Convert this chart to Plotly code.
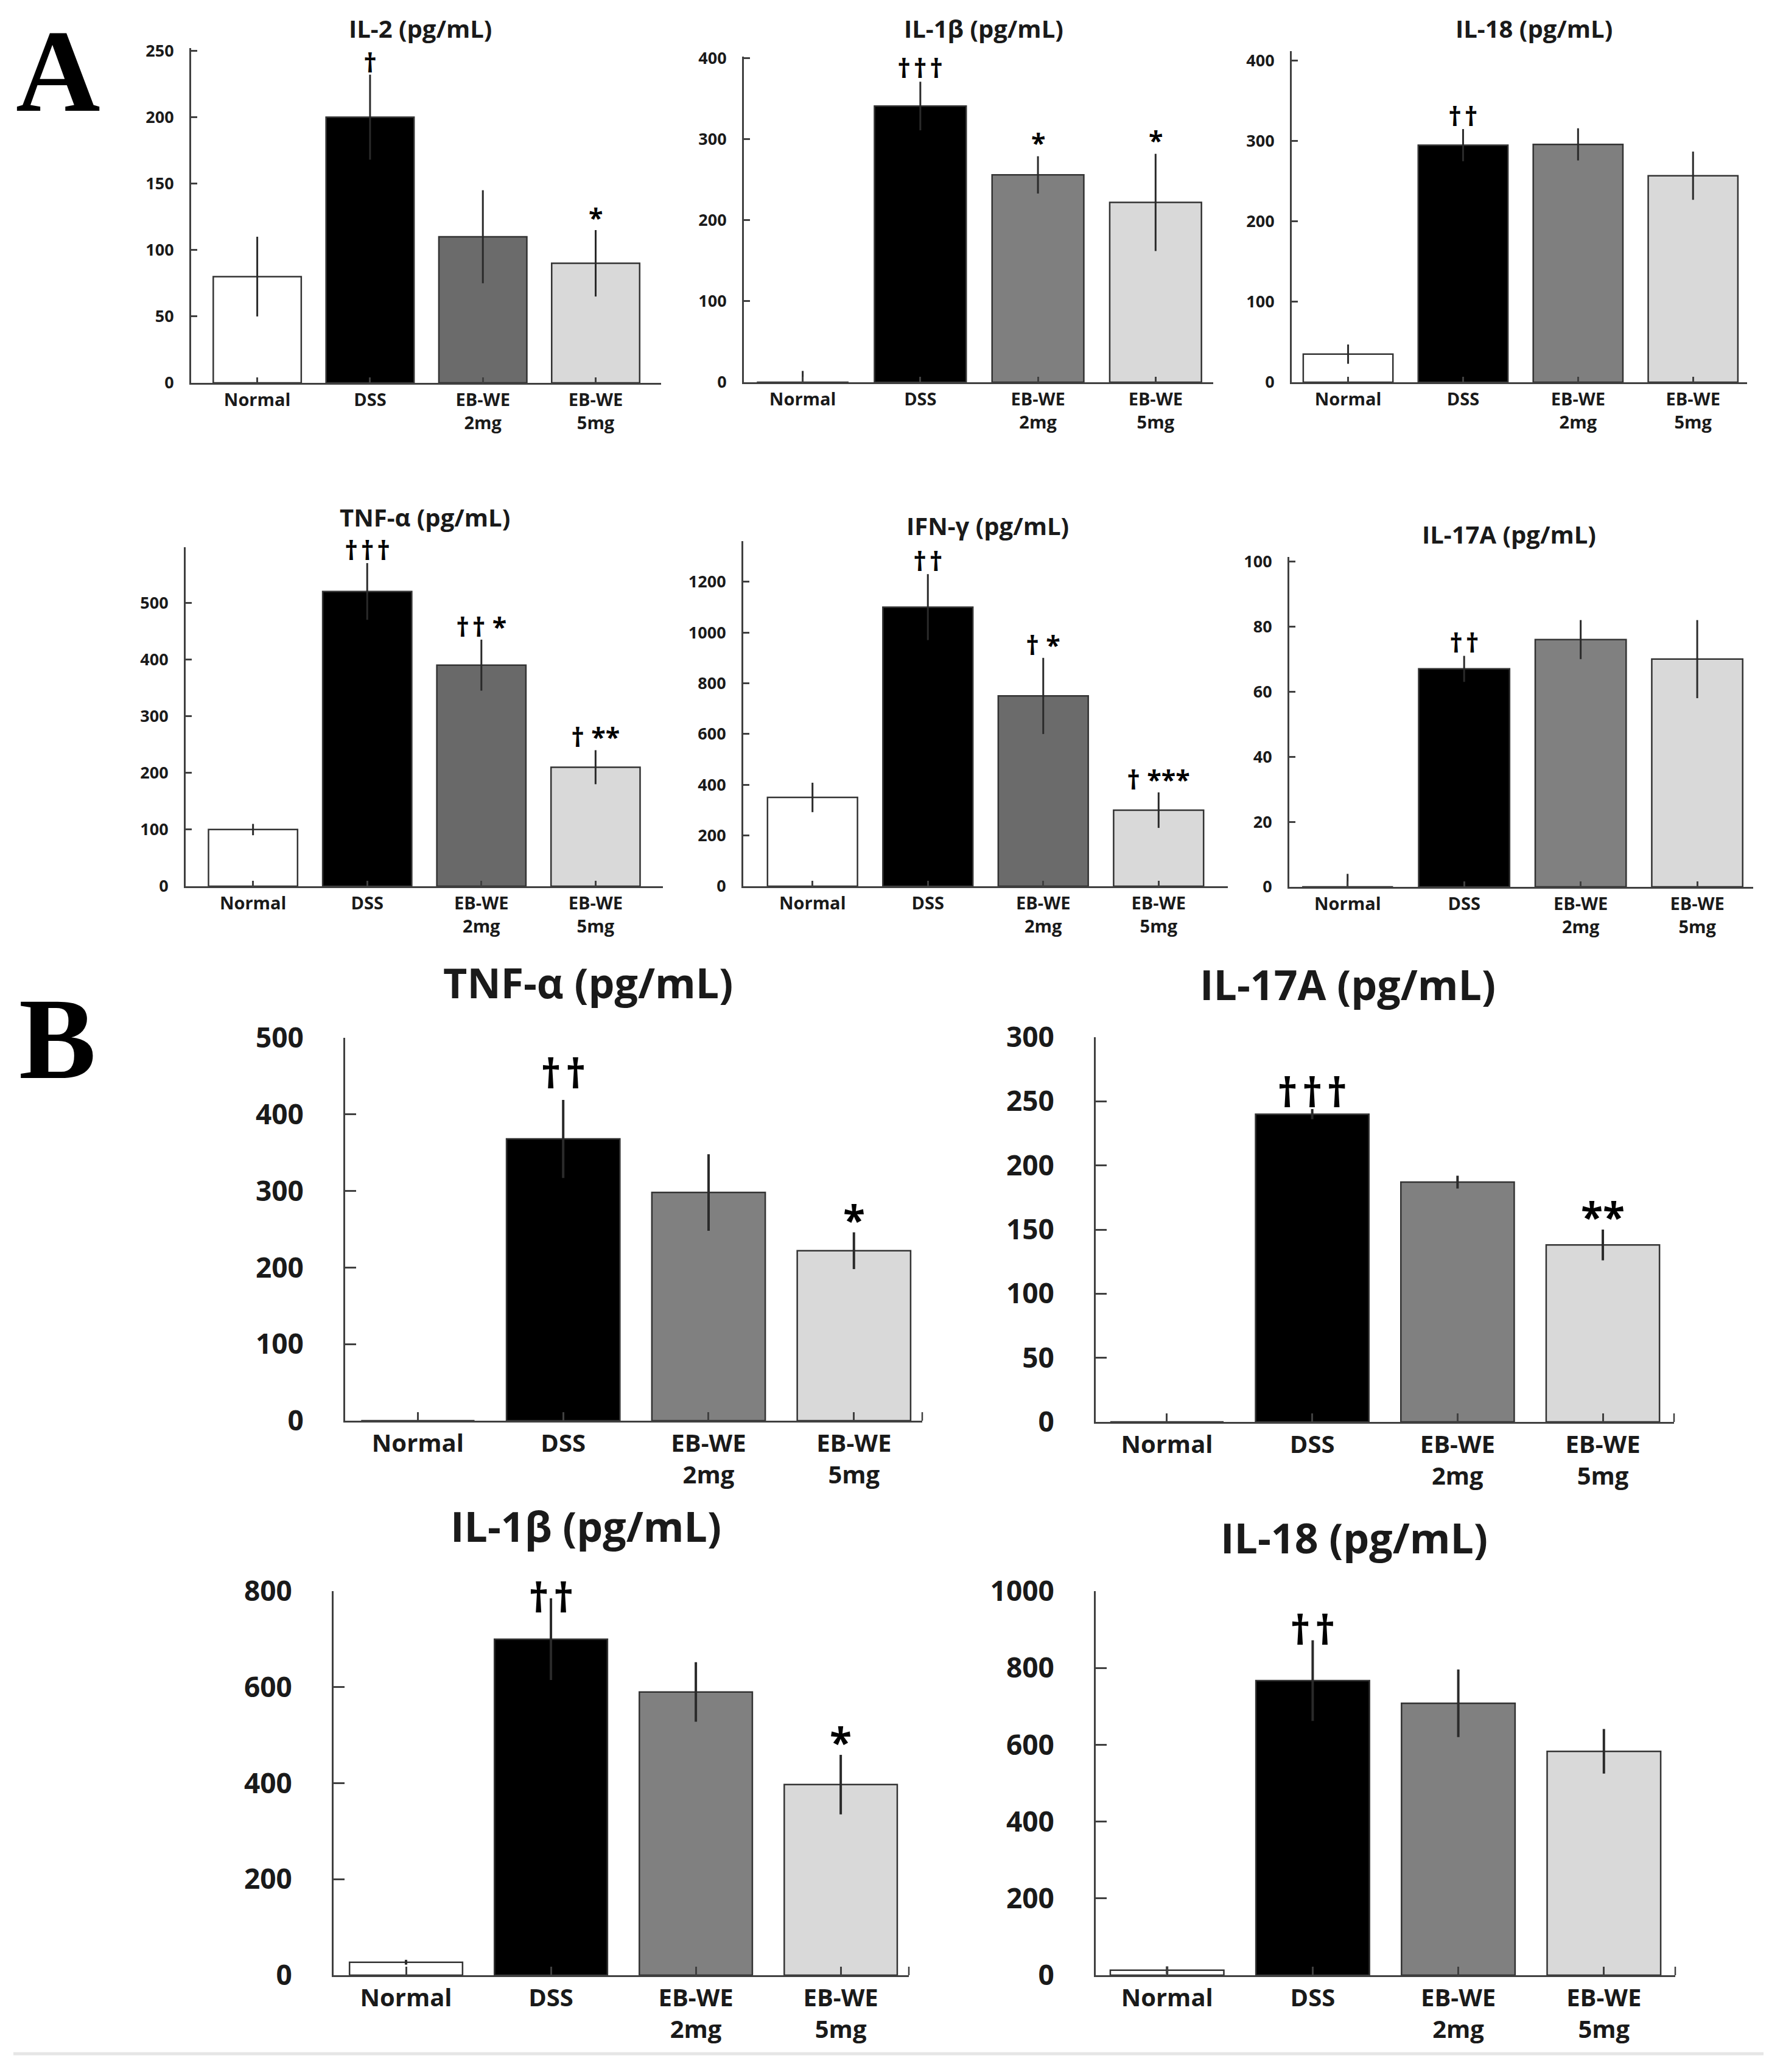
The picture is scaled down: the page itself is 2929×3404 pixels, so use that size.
import plotly.graph_objects as go

W, H = 2929, 3404
OFF = 8  # default body margin of the html page

groups = ["Normal", "DSS", "EB-WE<br>2mg", "EB-WE<br>5mg"]

# panel A, upper row
a_il2 = [80, 200, 110, 90]
a_il2_sd = [30, 32, 35, 25]
a_il2_sig = ["", "†", "", "*"]

a_il1b = [0, 341, 256, 222]
a_il1b_sd = [14, 30, 23, 60]
a_il1b_sig = ["", "†††", "*", "*"]

a_il18 = [35, 295, 296, 257]
a_il18_sd = [12, 20, 20, 30]
a_il18_sig = ["", "††", "", ""]

# panel A, lower row
a_tnf = [100, 520, 390, 210]
a_tnf_sd = [10, 50, 45, 30]
a_tnf_sig = ["", "†††", "†† *", "† **"]

a_ifn = [350, 1100, 750, 300]
a_ifn_sd = [58, 130, 150, 70]
a_ifn_sig = ["", "††", "† *", "† ***"]

a_il17 = [0, 67, 76, 70]
a_il17_sd = [4, 4, 6, 12]
a_il17_sig = ["", "††", "", ""]

# panel B
b_tnf = [0, 368, 298, 222]
b_tnf_sd = [0, 51, 50, 24]
b_tnf_sig = ["", "††", "", "*"]

b_il17 = [0, 240, 187, 138]
b_il17_sd = [0, 4, 5, 12]
b_il17_sig = ["", "†††", "", "**"]

b_il1b = [27, 700, 590, 397]
b_il1b_sd = [5, 85, 62, 62]
b_il1b_sig = ["", "††", "", "*"]

b_il18 = [13, 767, 708, 583]
b_il18_sd = [10, 105, 88, 58]
b_il18_sig = ["", "††", "", ""]

FONT = "Open Sans"


def px(x):
    return (x - OFF) / W


def py(y):
    return 1 - (y - OFF) / H


# title, values, sd, signs, 2mg colour, dtick, ymax, x range, pixel box (x0, x1, ytop, yzero),
# title pos, big?, pixel shift of the dagger marks
panels = [
    ("IL-2 (pg/mL)", a_il2, a_il2_sd, a_il2_sig, "#6b6b6b", 50, 252, (-0.586, 3.58), (314, 1086, 79, 629), (690, 47), False, -11),
    ("IL-1β (pg/mL)", a_il1b, a_il1b_sd, a_il1b_sig, "#7f7f7f", 100, 402, (-0.5, 3.49), (1222, 1993, 93, 628), (1616, 47), False, -9),
    ("IL-18 (pg/mL)", a_il18, a_il18_sd, a_il18_sig, "#7f7f7f", 100, 412, (-0.49, 3.47), (2122, 2870, 84, 628), (2520, 47), False, -10),
    ("TNF-α (pg/mL)", a_tnf, a_tnf_sd, a_tnf_sig, "#696969", 100, 598, (-0.59, 3.59), (305, 1089, 899, 1456), (698, 850), False, -10),
    ("IFN-γ (pg/mL)", a_ifn, a_ifn_sd, a_ifn_sig, "#6b6b6b", 200, 1360, (-0.6, 3.6), (1221, 2017, 889, 1456), (1622, 863), False, -10),
    ("IL-17A (pg/mL)", a_il17, a_il17_sd, a_il17_sig, "#808080", 20, 101.4, (-0.5, 3.48), (2118, 2880, 915, 1457), (2479, 878), False, -10),
    ("TNF-α (pg/mL)", b_tnf, b_tnf_sd, b_tnf_sig, "#808080", 100, 500, (-0.5, 3.47), (567, 1515, 1705, 2334), (966, 1613), True, -2),
    ("IL-17A (pg/mL)", b_il17, b_il17_sd, b_il17_sig, "#808080", 50, 300, (-0.49, 3.49), (1800, 2750, 1704, 2336), (2214, 1616), True, -18),
    ("IL-1β (pg/mL)", b_il1b, b_il1b_sd, b_il1b_sig, "#808080", 200, 800, (-0.5, 3.47), (548, 1493, 2614, 3245), (962, 2506), True, -44),
    ("IL-18 (pg/mL)", b_il18, b_il18_sd, b_il18_sig, "#808080", 200, 1000, (-0.49, 3.49), (1800, 2752, 2614, 3245), (2224, 2525), True, -28),
]

fig = go.Figure()
annotations = []
shapes = []
layout = {}

for i, (title, vals, sd, sig, mid, dt, ymax, xr, box, tpos, big, dshift) in enumerate(panels, start=1):
    x0, x1, ytop, yzero = box
    xa = "x" if i == 1 else "x%d" % i
    ya = "y" if i == 1 else "y%d" % i
    lw = 4 if big else 3

    fig.add_trace(go.Bar(
        x=groups, y=vals, width=0.78,
        marker=dict(color=["#ffffff", "#000000", mid, "#d9d9d9"],
                    line=dict(color="#333333", width=2.5)),
        error_y=dict(type="data", array=sd,
                     arrayminus=[min(v, s) for v, s in zip(vals, sd)],
                     thickness=lw, width=0, color="#2a2a2a"),
        xaxis=xa, yaxis=ya, showlegend=False,
    ))

    layout["xaxis" if i == 1 else "xaxis%d" % i] = dict(
        domain=[px(x0), px(x1)], anchor=ya, type="category", automargin=False,
        range=list(xr), showline=True, linecolor="#404040", linewidth=3,
        ticks="inside", ticklen=14 if big else 9, tickwidth=2.5, tickcolor="#404040",
        showgrid=False, zeroline=False,
        tickfont=dict(family=FONT, size=40 if big else 29, color="#1a1a1a", weight="bold"),
    )
    layout["yaxis" if i == 1 else "yaxis%d" % i] = dict(
        domain=[py(yzero), py(ytop)], anchor=xa, automargin=False,
        range=[0, ymax], dtick=dt, tick0=0,
        showline=True, linecolor="#404040", linewidth=3,
        ticks="inside", ticklen=18 if big else 10, tickwidth=2.5, tickcolor="#404040",
        ticklabelstandoff=56 if big else 20,
        showgrid=False, zeroline=False,
        tickfont=dict(family=FONT, size=46 if big else 27, color="#1a1a1a", weight="bold"),
    )

    annotations.append(dict(
        text="<b>%s</b>" % title, x=px(tpos[0]), y=py(tpos[1]),
        xref="paper", yref="paper", xanchor="center", yanchor="middle",
        showarrow=False, font=dict(family=FONT, size=68 if big else 40, color="#1a1a1a"),
    ))

    for k, s in enumerate(sig):
        if s:
            # a hair space between the daggers, as the source font spaces them wider
            label = s.replace("††", "†\u200a†").replace("††", "†\u200a†")
            shift = dshift
            if big and "†" not in s:
                shift = -25
            annotations.append(dict(
                text="<b>%s</b>" % label, x=k, y=vals[k] + sd[k],
                xref=xa, yref=ya, xanchor="center", yanchor="bottom",
                yshift=shift, showarrow=False,
                font=dict(family=FONT, size=66 if big else 43, color="#000000"),
            ))

    if big:
        # end tick at the right of the x axis
        shapes.append(dict(type="line", xref=xa + " domain", yref=ya + " domain",
                           x0=1, x1=1, y0=0, y1=14 / (yzero - ytop),
                           line=dict(color="#404040", width=2.5)))

# panel letters
annotations.append(dict(text="<b>A</b>", x=px(95), y=py(117), xref="paper", yref="paper",
                        xanchor="center", yanchor="middle", showarrow=False,
                        font=dict(family="Liberation Serif", size=192, color="#000000")))
annotations.append(dict(text="<b>B</b>", x=px(94), y=py(1707), xref="paper", yref="paper",
                        xanchor="center", yanchor="middle", showarrow=False,
                        font=dict(family="Liberation Serif", size=190, color="#000000")))

shapes.append(dict(type="line", xref="paper", yref="paper", x0=px(22), x1=px(2897),
                   y0=py(3374), y1=py(3374), line=dict(color="#e6e6e6", width=5)))

fig.update_layout(
    width=W, height=H, margin=dict(l=0, r=0, t=0, b=0, autoexpand=False),
    paper_bgcolor="white", plot_bgcolor="white",
    bargap=0.2, annotations=annotations, shapes=shapes, **layout,
)

fig.write_html("out.html")
